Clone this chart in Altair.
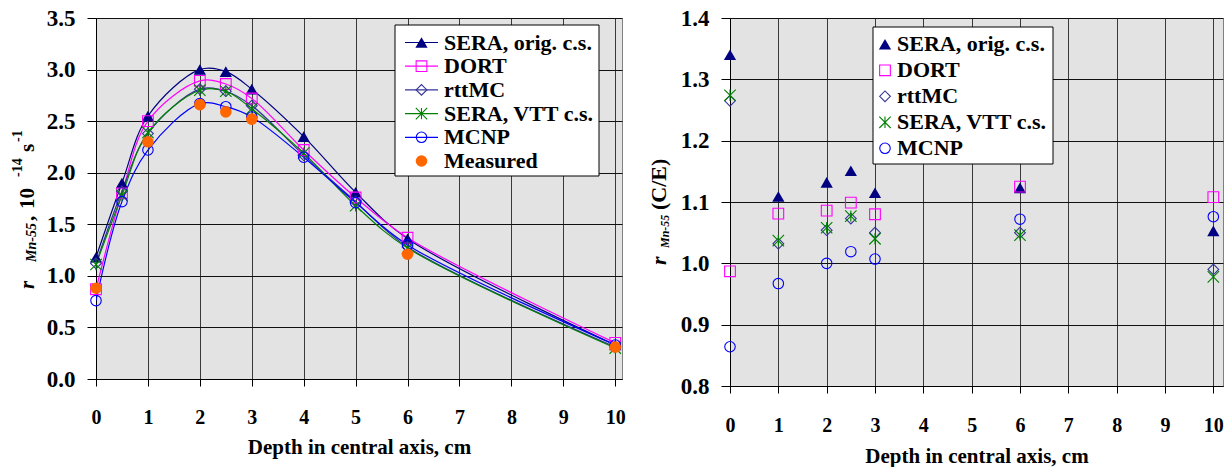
import altair as alt
import pandas as pd

FONT = "Liberation Serif"

# ---------------- data ----------------
depth = [0, 0.5, 1, 2, 2.5, 3, 4, 5, 6, 10]
sera_orig = [1.18, 1.90, 2.55, 3.00, 2.98, 2.81, 2.35, 1.81, 1.36, 0.33]
dort = [0.87, 1.80, 2.50, 2.89, 2.86, 2.72, 2.22, 1.76, 1.37, 0.35]
rttmc = [1.12, 1.82, 2.38, 2.81, 2.79, 2.65, 2.17, 1.72, 1.28, 0.31]
sera_vtt = [1.11, 1.78, 2.39, 2.80, 2.79, 2.62, 2.19, 1.68, 1.27, 0.30]
mcnp = [0.76, 1.72, 2.22, 2.67, 2.64, 2.54, 2.15, 1.71, 1.30, 0.33]

meas_depth = [0, 1, 2, 2.5, 3, 6, 10]
measured = [0.88, 2.30, 2.66, 2.59, 2.52, 1.21, 0.31]

ce_depth = [0, 1, 2, 2.5, 3, 6, 10]
ce_sera_orig = [1.340, 1.109, 1.132, 1.151, 1.115, 1.123, 1.053]
ce_dort = [0.987, 1.081, 1.086, 1.099, 1.080, 1.125, 1.108]
ce_rttmc = [1.265, 1.032, 1.054, 1.073, 1.050, 1.050, 0.990]
ce_sera_vtt = [1.274, 1.037, 1.058, 1.077, 1.040, 1.046, 0.978]
ce_mcnp = [0.864, 0.967, 1.000, 1.019, 1.007, 1.072, 1.076]

series_names = ["SERA, orig. c.s.", "DORT", "rttMC", "SERA, VTT c.s.", "MCNP"]
left_values = [sera_orig, dort, rttmc, sera_vtt, mcnp]
right_values = [ce_sera_orig, ce_dort, ce_rttmc, ce_sera_vtt, ce_mcnp]
measured_name = "Measured"

x_ticks = list(range(0, 11))
y_ticks_left = [0.0, 0.5, 1.0, 1.5, 2.0, 2.5, 3.0, 3.5]
y_ticks_right = [0.8, 0.9, 1.0, 1.1, 1.2, 1.3, 1.4]

# ---------------- styles ----------------
STAR = "M-1,-1L1,1M-1,1L1,-1M0,-1L0,1"
styles = [
    dict(color="#000080", shape="triangle-up", filled=True, size=150),
    dict(color="#ff00ff", shape="square", filled=False, size=115),
    dict(color="#333399", shape="diamond", filled=False, size=115),
    dict(color="#008000", shape=STAR, filled=False, size=130),
    dict(color="#0000ff", shape="circle", filled=False, size=110),
]
meas_style = dict(color="#ff6600", shape="circle", filled=True, size=135)

one_row = alt.Data(values=[{"a": 1}])


def txt(s, x, y, size, angle=0, italic=False, align="left", baseline="alphabetic"):
    kw = dict(font=FONT, fontSize=size, fontWeight="bold", color="black",
              align=align, baseline=baseline)
    if angle:
        kw["angle"] = angle
    if italic:
        kw["fontStyle"] = "italic"
    return alt.Chart(one_row).mark_text(**kw).encode(
        x=alt.value(x), y=alt.value(y), text=alt.value(s))


def legend(x0, x1, y0, y1, rows, sym_x, text_x, row_y0, row_dy, with_lines, line_x0=0, line_x1=0):
    layers = [alt.Chart(one_row).mark_rect(fill="white", stroke="black", strokeWidth=1).encode(
        x=alt.value(x0), x2=alt.value(x1), y=alt.value(y0), y2=alt.value(y1))]
    for i, (name, st, has_line) in enumerate(rows):
        yy = row_y0 + row_dy * i
        if with_lines and has_line:
            layers.append(alt.Chart(one_row).mark_rule(color=st["color"], strokeWidth=1.2).encode(
                x=alt.value(line_x0), x2=alt.value(line_x1), y=alt.value(yy)))
        layers.append(alt.Chart(one_row).mark_point(
            shape=st["shape"], filled=st["filled"], size=st["size"], color=st["color"],
            opacity=1, strokeWidth=1.1).encode(x=alt.value(sym_x), y=alt.value(yy)))
        layers.append(txt(name, text_x, yy, 22, baseline="middle"))
    return layers


def axis_style():
    return dict(labelFont=FONT, labelFontWeight="bold", labelColor="black",
                titleFont=FONT, titleFontWeight="bold", titleColor="black",
                tickColor="black", domainColor="black", domainWidth=1, tickWidth=1,
                grid=True, gridWidth=1, gridOpacity=1)


# ---------------- left chart ----------------
LW, LH = 526, 361
xl = alt.X("depth:Q", scale=alt.Scale(domain=[0, 10.13], nice=False, zero=False),
           axis=alt.Axis(values=x_ticks, format="d", title="Depth in central axis, cm",
                         labelFontSize=20, tickSize=7, labelBaseline="alphabetic",
                         labelPadding=37, labelFlush=False, labelOverlap=False,
                         titleFontSize=21, titleBaseline="alphabetic", titleY=74,
                         gridColor="#3a3a3a", **axis_style()))
yl = alt.Y("value:Q", scale=alt.Scale(domain=[0, 3.5], nice=False),
           axis=alt.Axis(values=y_ticks_left, format=".1f", title=None, labelFontSize=23,
                         tickSize=9, labelPadding=12, labelFlush=False, labelOverlap=False,
                         gridColor="#111111", **axis_style()))

left_layers = []
for name, vals, st in zip(series_names, left_values, styles):
    df = pd.DataFrame({"depth": depth, "value": vals})
    left_layers.append(alt.Chart(df).mark_line(
        interpolate="catmull-rom", color=st["color"], strokeWidth=1.2, clip=True).encode(x=xl, y=yl))
for name, vals, st in zip(series_names, left_values, styles):
    df = pd.DataFrame({"depth": depth, "value": vals})
    left_layers.append(alt.Chart(df).mark_point(
        shape=st["shape"], filled=st["filled"], size=st["size"], color=st["color"],
        opacity=1, strokeWidth=1.1).encode(x=xl, y=yl))
df_meas = pd.DataFrame({"depth": meas_depth, "value": measured})
left_layers.append(alt.Chart(df_meas).mark_point(
    shape="circle", filled=True, size=meas_style["size"], color=meas_style["color"],
    opacity=1).encode(x=xl, y=yl))

# y title: r_{Mn-55}, 10^{-14} s^{-1}  (rotated; each piece starts at its lower end)
left_layers += [
    txt("r", -62, 271, 21, angle=270, italic=True),
    txt("Mn-55", -60, 244, 14, angle=270, italic=True),
    txt(",", -62, 203, 21, angle=270),
    txt("10", -62, 191, 21, angle=270),
    txt("-14", -74, 159, 14, angle=270),
    txt("s", -62, 134, 21, angle=270),
    txt("-1", -74, 124, 14, angle=270),
]
left_rows = [(n, s, True) for n, s in zip(series_names, styles)] + [(measured_name, meas_style, False)]
left_layers += legend(299, 503, 7, 158, left_rows, sym_x=325.5, text_x=348,
                      row_y0=24.5, row_dy=23.7, with_lines=True, line_x0=309, line_x1=342)

left = alt.layer(*left_layers).properties(width=LW, height=LH)

# ---------------- right chart ----------------
RW, RH = 493, 368
xr = alt.X("depth:Q", scale=alt.Scale(domain=[0, 10.2], nice=False, zero=False),
           axis=alt.Axis(values=x_ticks, format="d", title="Depth in central axis, cm",
                         labelFontSize=20, tickSize=7, labelBaseline="alphabetic",
                         labelPadding=38, labelFlush=False, labelOverlap=False,
                         titleFontSize=21, titleBaseline="alphabetic", titleY=76,
                         gridColor="#3a3a3a", **axis_style()))
yr = alt.Y("value:Q", scale=alt.Scale(domain=[0.8, 1.4], nice=False, zero=False),
           axis=alt.Axis(values=y_ticks_right, format=".1f", title=None, labelFontSize=23,
                         tickSize=9, labelPadding=12, labelFlush=False, labelOverlap=False,
                         gridColor="#111111", **axis_style()))

right_layers = []
for name, vals, st in zip(series_names, right_values, styles):
    df = pd.DataFrame({"depth": ce_depth, "value": vals})
    right_layers.append(alt.Chart(df).mark_point(
        shape=st["shape"], filled=st["filled"], size=st["size"], color=st["color"],
        opacity=1, strokeWidth=1.1).encode(x=xr, y=yr))

right_layers += [
    txt("r", -64, 247, 22, angle=270, italic=True),
    txt("Mn-55", -61, 230, 12, angle=270, italic=True),
    txt("(C/E)", -64, 192, 22, angle=270),
]
right_rows = [(n, s, False) for n, s in zip(series_names, styles)]
right_layers += legend(143, 323, 9, 146, right_rows, sym_x=155, text_x=167,
                       row_y0=26.3, row_dy=26, with_lines=False)

right = alt.layer(*right_layers).properties(width=RW, height=RH)

chart = alt.hconcat(left, right, spacing=108, bounds="flush").properties(
    padding={"left": 10, "top": 6, "right": 0, "bottom": 0},
    background="white"
).configure_view(
    fill="#e3e3e3", stroke="#808080", strokeWidth=1
)

chart.save("out.html", embed_options={"renderer": "svg", "actions": False})
